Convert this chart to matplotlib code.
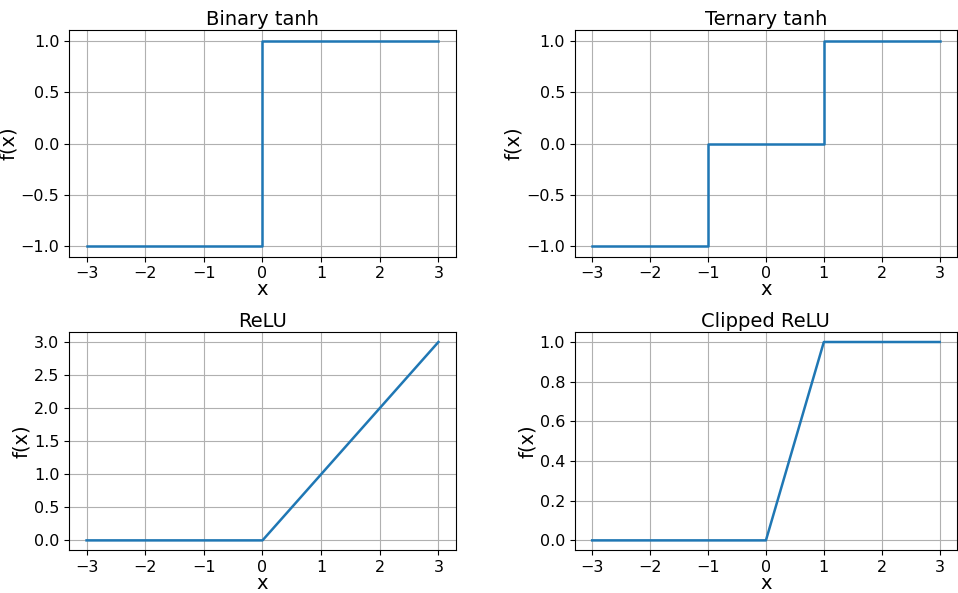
import matplotlib
matplotlib.use('agg')
import matplotlib.pyplot as plt

titles = ["Binary tanh", "Ternary tanh", "ReLU", "Clipped ReLU"]
xs = [
    [-3, 0, 0, 3],
    [-3, -1, -1, 1, 1, 3],
    [-3, 0, 3],
    [-3, 0, 1, 3],
]
ys = [
    [-1, -1, 1, 1],
    [-1, -1, 0, 0, 1, 1],
    [0, 0, 3],
    [0, 0, 1, 1],
]
yticks = [
    [-1.0, -0.5, 0.0, 0.5, 1.0],
    [-1.0, -0.5, 0.0, 0.5, 1.0],
    [0.0, 0.5, 1.0, 1.5, 2.0, 2.5, 3.0],
    [0.0, 0.2, 0.4, 0.6, 0.8, 1.0],
]

fig = plt.figure(figsize=(9.58, 5.93), dpi=100)
boxes = [
    [0.072, 0.567, 0.404, 0.382],
    [0.600, 0.567, 0.399, 0.382],
    [0.072, 0.072, 0.404, 0.368],
    [0.600, 0.072, 0.399, 0.368],
]
for i in range(4):
    ax = fig.add_axes(boxes[i])
    ax.plot(xs[i], ys[i], color='#1f77b4', lw=1.8)
    ax.set_title(titles[i], fontsize=14, pad=4)
    ax.set_xlabel("x", fontsize=14, labelpad=-1)
    ax.set_ylabel("f(x)", fontsize=14, labelpad=2)
    ax.set_xticks([-3, -2, -1, 0, 1, 2, 3])
    ax.set_yticks(yticks[i])
    ax.tick_params(labelsize=11.5)
    ax.grid(True)

plt.savefig('out.png', dpi=100)
